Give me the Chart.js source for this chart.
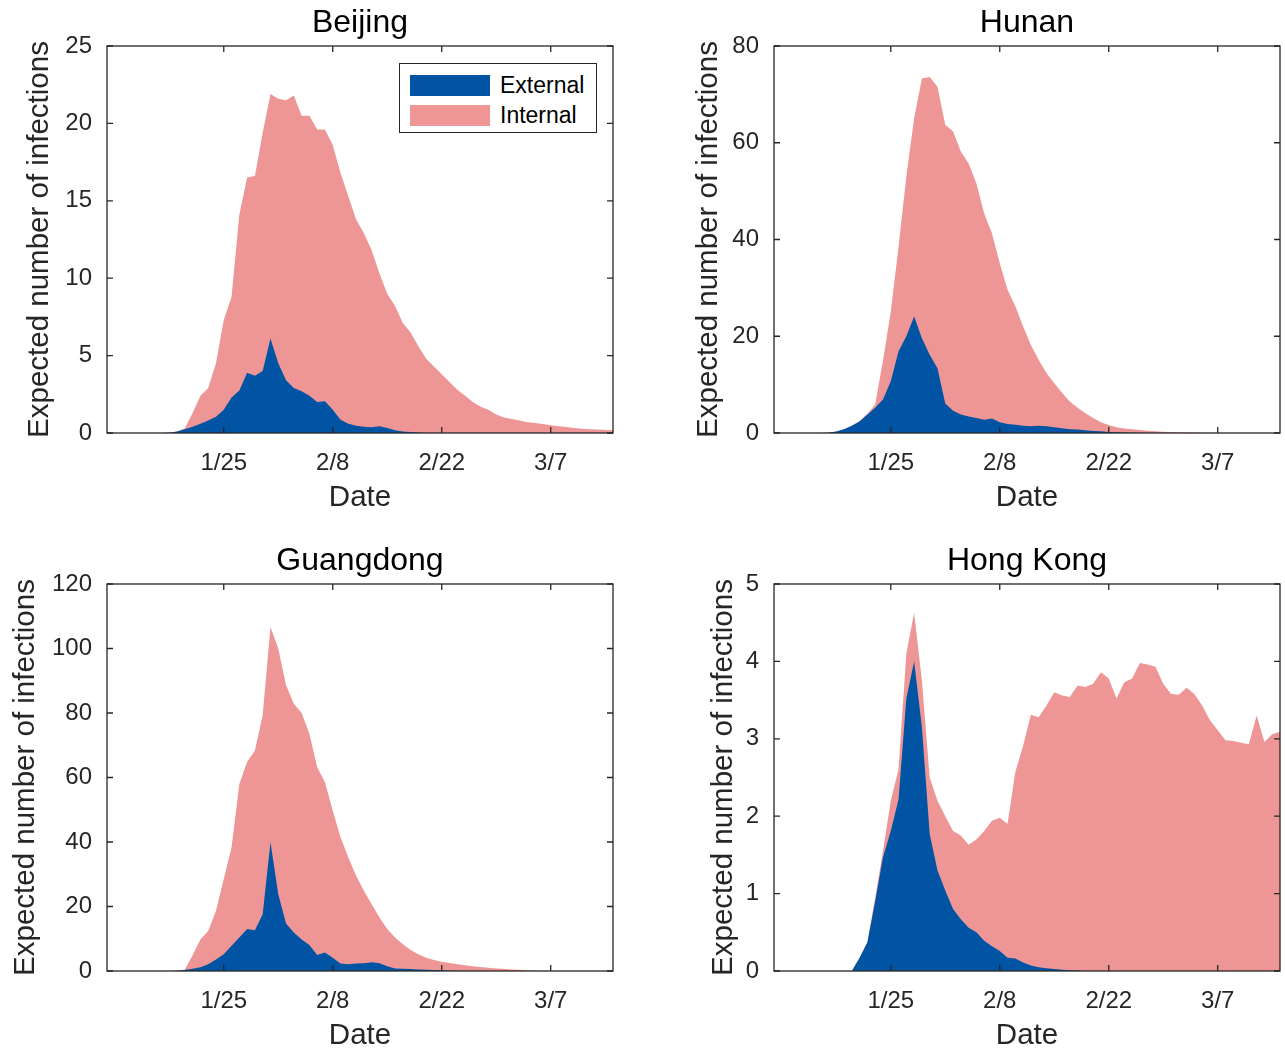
<!DOCTYPE html>
<html>
<head>
<meta charset="utf-8">
<script src="https://cdn.jsdelivr.net/npm/chart.js@4.4.0/dist/chart.umd.min.js"></script>
<style>
  body { margin: 0; background: #fff; }
  #wrap { position: relative; width: 1285px; height: 1051px; }
  #wrap canvas { position: absolute; }
  #legend {
    position: absolute; left: 399px; top: 63px; width: 196px; height: 68px;
    border: 1.3px solid #262626; background: #fff;
    font-family: 'Liberation Sans', Arial, sans-serif; font-size: 23px; color: #000;
  }
  #legend .sw { position: absolute; left: 10px; width: 80px; height: 21px; }
  #legend .tx { position: absolute; left: 100px; height: 30px; line-height: 30px; white-space: nowrap; }
</style>
</head>
<body>
<div id="wrap">
  <canvas id="beijing" width="642" height="513" style="left:0;top:0"></canvas>
  <canvas id="hunan" width="618" height="513" style="left:667px;top:0"></canvas>
  <canvas id="guangdong" width="642" height="513" style="left:0;top:538px"></canvas>
  <canvas id="hongkong" width="618" height="513" style="left:667px;top:538px"></canvas>
  <div id="legend"></div>
</div>
<script>
// one value per day, day 0 = 1/10 ... day 65 = 3/15
const xTickDays = [15, 29, 43, 57];
const xTickLabels = ['1/25', '2/8', '2/22', '3/7'];

// "Total" arrays are the top of the pink band (external + internal)
const beijingExternal = [0,0,0,0,0,0,0,0,0.02,0.1, 0.25,0.4,0.6,0.8,1.05,1.5,2.3,2.75,3.9,3.7,
  4.0,6.1,4.5,3.4,2.9,2.7,2.4,2.0,2.05,1.5, 0.86,0.6,0.47,0.4,0.37,0.43,0.32,0.17,0.1,0.06,
  0.03,0,0,0,0,0,0,0,0,0, 0,0,0,0,0,0,0,0,0,0, 0,0,0,0,0,0];
const beijingTotal = [0,0,0,0,0,0,0,0,0.02,0.1, 0.3,1.3,2.4,2.9,4.5,7.3,8.8,14.1,16.5,16.6,
  19.4,21.9,21.6,21.5,21.8,20.5,20.5,19.6,19.6,18.6, 16.8,15.3,13.8,12.9,11.8,10.3,9.0,8.2,7.1,6.5,
  5.6,4.8,4.3,3.8,3.3,2.8,2.4,2.0,1.7,1.5, 1.2,1.0,0.9,0.8,0.7,0.65,0.58,0.5,0.43,0.39,
  0.32,0.28,0.24,0.22,0.2,0.17];

const hunanExternal = [0,0,0,0,0,0,0,0.05,0.3,0.8, 1.5,2.4,3.8,5.2,6.9,10.7,16.9,20.0,24.1,19.6,
  16.2,13.4,6.1,4.6,3.8,3.4,3.1,2.75,3.0,2.2, 1.86,1.7,1.5,1.4,1.5,1.4,1.2,1.0,0.8,0.7,
  0.55,0.4,0.35,0.2,0.15,0.1,0.05,0.03,0,0, 0,0,0,0,0,0,0,0,0,0, 0,0,0,0,0,0];
const hunanTotal = [0,0,0,0,0,0,0,0.05,0.3,0.8, 1.5,2.5,4.0,5.9,15,25,38.5,53,65,73.3,
  73.6,71.6,63.7,62.3,58.2,55.7,51.6,45.4,41.3,35.1, 29.6,26.2,22.0,18.2,15.1,12.4,10.3,8.3,6.5,5.2,
  4.1,3.1,2.2,1.65,1.2,0.95,0.75,0.6,0.45,0.35, 0.28,0.2,0.15,0.12,0.08,0.05,0.03,0.02,0,0,
  0,0,0,0,0,0];

const guangdongExternal = [0,0,0,0,0,0,0,0,0,0.1, 0.3,0.7,1.2,2.1,3.6,5.2,7.8,10.4,13.0,12.6,
  17.6,39.9,23.8,14.7,11.9,9.8,8.1,5.0,5.7,4.1, 2.3,2.1,2.3,2.4,2.7,2.4,1.45,0.8,0.7,0.6,
  0.5,0.4,0.3,0.2,0.1,0.05,0,0,0,0, 0,0,0,0,0,0,0,0,0,0, 0,0,0,0,0,0];
const guangdongTotal = [0,0,0,0,0,0,0,0,0,0.1, 0.5,5.0,9.8,12.4,18.7,28.5,38.3,58,64.8,68.4,
  79.3,106.7,100,88.6,82.9,80,73.6,63.2,58.5,49.7, 41.5,35.2,29.5,24.9,20.7,16.6,13.0,10.4,8.3,6.5,
  5.2,4.1,3.4,2.9,2.5,2.1,1.8,1.45,1.25,1.0, 0.8,0.7,0.5,0.4,0.2,0.1,0.05,0,0,0,
  0,0,0,0,0,0];

const hongkongExternal = [0,0,0,0,0,0,0,0,0,0, 0,0.17,0.37,0.9,1.47,1.81,2.22,3.52,4.0,3.15,
  1.77,1.3,1.04,0.8,0.67,0.56,0.5,0.39,0.32,0.26, 0.17,0.16,0.11,0.07,0.05,0.035,0.025,0.015,0.01,0.005,
  0,0,0,0,0,0,0,0,0,0, 0,0,0,0,0,0,0,0,0,0, 0,0,0,0,0,0];
const hongkongTotal = [0,0,0,0,0,0,0,0,0,0, 0,0.17,0.37,0.95,1.55,2.2,2.61,4.1,4.63,3.75,
  2.5,2.2,2.0,1.81,1.75,1.63,1.7,1.81,1.94,1.98, 1.9,2.57,2.91,3.31,3.28,3.43,3.6,3.56,3.54,3.69,
  3.67,3.71,3.86,3.78,3.52,3.73,3.78,3.98,3.96,3.93, 3.71,3.58,3.57,3.66,3.58,3.43,3.24,3.11,2.98,2.97,
  2.95,2.93,3.3,2.96,3.06,3.09];

const blue = '#0054a3';
const pink = '#ee9696';
const axisColor = '#262626';

Chart.defaults.font.family = "'Liberation Sans', Arial, sans-serif";

// box round the axes with inward tick marks on all four sides
const matlabBox = {
  id: 'matlabBox',
  afterDatasetsDraw(chart) {
    const {ctx, chartArea: a, scales: {x, y}} = chart;
    const len = 6;
    ctx.save();
    ctx.strokeStyle = axisColor;
    ctx.lineWidth = 1.3;
    ctx.strokeRect(a.left, a.top, a.right - a.left, a.bottom - a.top);
    ctx.beginPath();
    x.ticks.forEach(t => {
      const px = x.getPixelForValue(t.value);
      ctx.moveTo(px, a.bottom); ctx.lineTo(px, a.bottom - len);
      ctx.moveTo(px, a.top); ctx.lineTo(px, a.top + len);
    });
    y.ticks.forEach(t => {
      const py = y.getPixelForValue(t.value);
      ctx.moveTo(a.left, py); ctx.lineTo(a.left + len, py);
      ctx.moveTo(a.right, py); ctx.lineTo(a.right - len, py);
    });
    ctx.stroke();
    ctx.restore();
  }
};

const htmlLegend = {
  id: 'htmlLegend',
  afterUpdate(chart) {
    const box = document.getElementById('legend');
    box.innerHTML = '';
    const items = chart.options.plugins.legend.labels.generateLabels(chart);
    items.forEach((item, i) => {
      const mid = 21 + 30 * i;
      const sw = document.createElement('div');
      sw.className = 'sw';
      sw.style.top = (mid - 10.5) + 'px';
      sw.style.background = item.fillStyle;
      const tx = document.createElement('div');
      tx.className = 'tx';
      tx.style.top = (mid - 15) + 'px';
      tx.textContent = item.text;
      box.appendChild(sw);
      box.appendChild(tx);
    });
  }
};

// yTitlePad moves the y label away from the axis the way matlab does for wide tick labels
function panel(id, title, ext, total, yMax, yStep, rightPad, yTitlePad, withLegend) {
  const plugins = [matlabBox];
  if (withLegend) plugins.push(htmlLegend);
  return new Chart(document.getElementById(id), {
    type: 'line',
    data: {
      labels: total.map((v, i) => i),
      datasets: [
        { label: 'External', data: ext, backgroundColor: blue, borderWidth: 0, fill: 'origin', pointRadius: 0, tension: 0 },
        { label: 'Internal', data: total, backgroundColor: pink, borderWidth: 0, fill: 'origin', pointRadius: 0, tension: 0 }
      ]
    },
    options: {
      responsive: false,
      animation: false,
      devicePixelRatio: 1,
      layout: { padding: { left: 0, right: rightPad, top: 0, bottom: 0 } },
      plugins: {
        legend: { display: false },
        tooltip: { enabled: false },
        title: {
          display: true, text: title, fullSize: false, color: '#000',
          font: { size: 32, weight: 'normal' },
          padding: { top: 3.8, bottom: 3.8 }
        }
      },
      scales: {
        x: {
          type: 'linear', min: 0, max: total.length - 1,
          afterBuildTicks: s => { s.ticks = xTickDays.map(v => ({ value: v })); },
          afterFit: s => { s.height = 80; },
          ticks: {
            callback: v => xTickLabels[xTickDays.indexOf(v)],
            autoSkip: false, maxRotation: 0, padding: 16,
            color: axisColor, font: { size: 24 }
          },
          grid: { display: false, drawTicks: false },
          border: { display: false },
          title: {
            display: true, text: 'Date', color: axisColor,
            font: { size: 29.5 }, padding: { top: 0, bottom: -3 }
          }
        },
        y: {
          min: 0, max: yMax,
          afterFit: s => { s.width = 107; },
          ticks: { stepSize: yStep, padding: 15, color: axisColor, font: { size: 24 } },
          grid: { display: false, drawTicks: false },
          border: { display: false },
          title: {
            display: true, text: 'Expected number of infections', color: axisColor,
            font: { size: 29.5 }, padding: { top: yTitlePad, bottom: 0 }
          }
        }
      }
    },
    plugins: plugins
  });
}

panel('beijing', 'Beijing', beijingExternal, beijingTotal, 25, 5, 29, 22.3, true);
panel('hunan', 'Hunan', hunanExternal, hunanTotal, 80, 20, 5, 24.3, false);
panel('guangdong', 'Guangdong', guangdongExternal, guangdongTotal, 120, 20, 29, 7.8, false);
panel('hongkong', 'Hong Kong', hongkongExternal, hongkongTotal, 5, 1, 5, 38.8, false);
</script>
</body>
</html>
